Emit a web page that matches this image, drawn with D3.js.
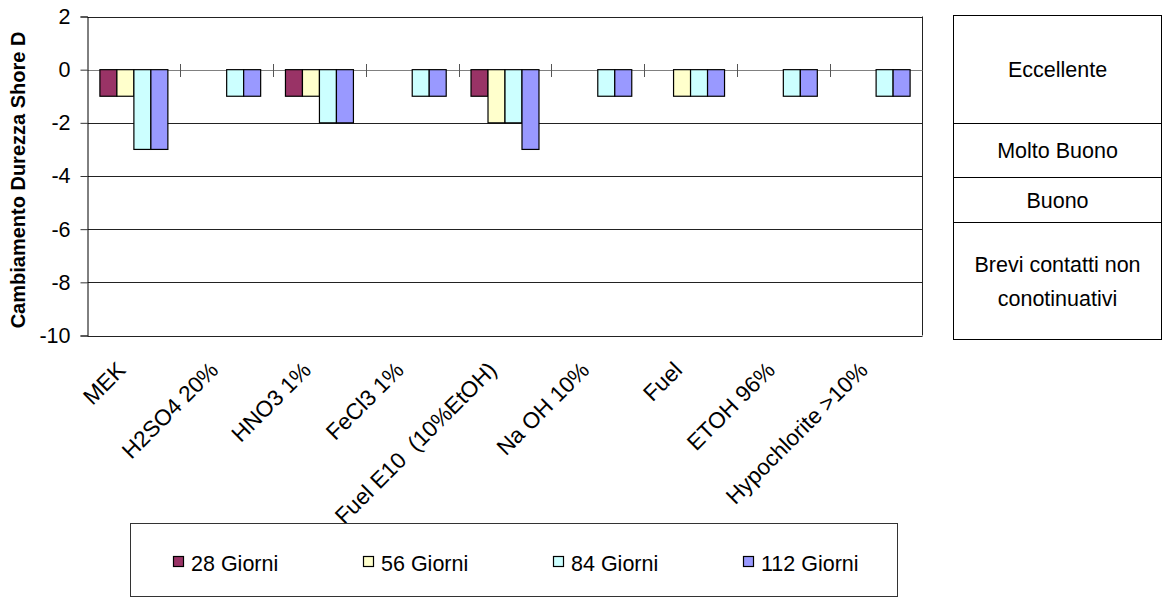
<!DOCTYPE html>
<html>
<head>
<meta charset="utf-8">
<script src="https://cdn.jsdelivr.net/npm/d3@7"></script>
<style>
  html, body { margin: 0; padding: 0; background: #fff; }
  svg text { font-family: "Liberation Sans", Arial, sans-serif; white-space: pre; }
</style>
</head>
<body>
<svg id="chart" width="1162" height="598"></svg>
<script>
const categories = ["MEK", "H2SO4 20%", "HNO3 1%", "FeCl3 1%", "Fuel E10  (10%EtOH)", "Na OH 10%", "Fuel", "ETOH 96%", "Hypochlorite >10%"];
const seriesNames = ["28 Giorni", "56 Giorni", "84 Giorni", "112 Giorni"];
const seriesColors = ["#993366", "#FFFFCC", "#CCFFFF", "#9999FF"];
const giorni28  = [-1, 0, -1, 0, -1, 0, 0, 0, 0];
const giorni56  = [-1, 0, -1, 0, -2, 0, -1, 0, 0];
const giorni84  = [-3, -1, -2, -1, -2, -1, -1, -1, -1];
const giorni112 = [-3, -1, -2, -1, -3, -1, -1, -1, -1];
const seriesValues = [giorni28, giorni56, giorni84, giorni112];
const yTicks = [2, 0, -2, -4, -6, -8, -10];
const yTitle = "Cambiamento Durezza Shore D";
const ratingLabels = [["Eccellente"], ["Molto Buono"], ["Buono"], ["Brevi contatti non", "conotinuativi"]];

const svg = d3.select("#chart");
const pLeft = 87.5, pRight = 922.5, pTop = 16.5, pBottom = 335.5;
const FS = 21.5;

const y = d3.scaleLinear().domain([-10, 2]).range([pBottom, pTop]);
const x = d3.scaleBand().domain(categories).range([pLeft, pRight]).paddingInner(0).paddingOuter(0);
const inner = d3.scaleBand().domain(seriesNames).range([0, x.bandwidth()]).paddingOuter(0.73).paddingInner(0);

// gridlines
svg.append("g").selectAll("line").data(yTicks.filter(d => d !== 0))
  .join("line")
  .attr("x1", pLeft).attr("x2", pRight)
  .attr("y1", d => Math.round(y(d)) + 0.5).attr("y2", d => Math.round(y(d)) + 0.5)
  .attr("stroke", "#222").attr("stroke-width", 1);
// right border
svg.append("line").attr("x1", pRight).attr("x2", pRight).attr("y1", pTop).attr("y2", pBottom)
  .attr("stroke", "#222");

// zero axis (category axis) with boundary ticks
const y0 = Math.round(y(0)) + 0.5;
svg.append("line").attr("x1", pLeft).attr("x2", pRight).attr("y1", y0).attr("y2", y0)
  .attr("stroke", "#808080");
svg.append("g").selectAll("line").data(categories.slice(1))
  .join("line")
  .attr("x1", d => Math.round(x(d)) + 0.5).attr("x2", d => Math.round(x(d)) + 0.5)
  .attr("y1", y0 - 6.5).attr("y2", y0 + 6.5)
  .attr("stroke", "#555");

// bars
seriesNames.forEach((s, si) => {
  svg.append("g").selectAll("rect").data(categories.map((c, i) => ({c, v: seriesValues[si][i]})).filter(d => d.v !== 0))
    .join("rect")
    .attr("x", d => x(d.c) + inner(s))
    .attr("width", inner.bandwidth())
    .attr("y", d => y(0))
    .attr("height", d => y(d.v) - y(0))
    .attr("fill", seriesColors[si])
    .attr("stroke", "#000").attr("stroke-width", 1.2);
});

// y axis
const yAxis = d3.axisLeft(y).tickValues(yTicks).tickSize(7).tickPadding(10).tickFormat(d => String(d));
const gy = svg.append("g").attr("transform", `translate(${pLeft},0)`).call(yAxis);
gy.select(".domain").attr("stroke", "#000");
gy.selectAll(".tick line").attr("stroke", "#333");
gy.selectAll(".tick text").attr("font-size", FS).attr("fill", "#000")
  .attr("font-family", "Liberation Sans, Arial, sans-serif");

// y title
svg.append("text")
  .attr("transform", `translate(25,${(pTop + pBottom) / 2 + 4}) rotate(-90)`)
  .attr("text-anchor", "middle")
  .attr("font-size", 20).attr("font-weight", "bold")
  .text(yTitle);

// x labels
svg.append("g").selectAll("text").data(categories)
  .join("text")
  .attr("transform", d => `translate(${x(d) + x.bandwidth() / 2 - 7},${pBottom + 36}) rotate(-45)`)
  .attr("text-anchor", "end")
  .attr("font-size", 22.5)
  .text(d => d);

// legend
const lg = svg.append("g");
lg.append("rect").attr("x", 130.5).attr("y", 523.5).attr("width", 767).attr("height", 73)
  .attr("fill", "#fff").attr("stroke", "#333");
const legendX = d3.scalePoint().domain(seriesNames).range([173, 743]);
const li = lg.selectAll("g.item").data(seriesNames).join("g")
  .attr("transform", d => `translate(${legendX(d)},556)`);
li.append("rect").attr("x", 0.5).attr("y", 0.5).attr("width", 10).attr("height", 10)
  .attr("fill", (d, i) => seriesColors[i]).attr("stroke", "#000").attr("stroke-width", 1.2);
li.append("text").attr("x", 18).attr("y", 15).attr("font-size", FS).text(d => d);

// rating table
const rowEdges = [15.5, 123.5, 177.5, 222.5, 339.5];
const tx0 = 953.5, tx1 = 1161.5;
const tg = svg.append("g");
tg.append("rect").attr("x", tx0).attr("y", rowEdges[0]).attr("width", tx1 - tx0).attr("height", rowEdges[4] - rowEdges[0])
  .attr("fill", "none").attr("stroke", "#000");
tg.selectAll("line").data(rowEdges.slice(1, 4)).join("line")
  .attr("x1", tx0).attr("x2", tx1).attr("y1", d => d).attr("y2", d => d).attr("stroke", "#000");
ratingLabels.forEach((lines, i) => {
  const cy = (rowEdges[i] + rowEdges[i + 1]) / 2;
  const lh = 34;
  lines.forEach((t, j) => {
    tg.append("text")
      .attr("x", (tx0 + tx1) / 2)
      .attr("y", cy + (j - (lines.length - 1) / 2) * lh)
      .attr("dy", "0.36em")
      .attr("text-anchor", "middle")
      .attr("font-size", FS)
      .text(t);
  });
});
</script>
</body>
</html>
